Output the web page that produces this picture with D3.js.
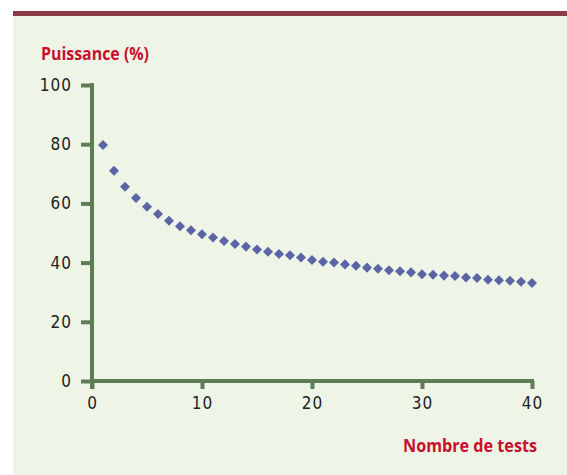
<!DOCTYPE html>
<html>
<head>
<meta charset="utf-8">
<script src="https://cdn.jsdelivr.net/npm/d3@7"></script>
<style>
  body { margin: 0; background: #fff; }
</style>
</head>
<body>
<div id="chart"></div>
<script>
// values
const tests = d3.range(1, 41);
const puissance = [79.7, 71.0, 65.6, 61.8, 58.9, 56.4, 54.1, 52.3, 50.9, 49.6,
                   48.5, 47.3, 46.3, 45.4, 44.4, 43.7, 42.9, 42.5, 41.7, 40.9,
                   40.3, 40.0, 39.4, 38.9, 38.3, 37.9, 37.4, 37.1, 36.7, 36.1,
                   35.9, 35.6, 35.5, 35.0, 34.8, 34.2, 34.0, 33.9, 33.5, 33.1];
const yTicks = [0, 20, 40, 60, 80, 100];
const xTicks = [0, 10, 20, 30, 40];

const W = 567, H = 475;
const axisColor = "#5e7d57";
const red = "#c8102e";

const svg = d3.select("#chart").append("svg")
    .attr("width", W)
    .attr("height", H);

// panel + top bar
svg.append("rect").attr("x", 13).attr("y", 16).attr("width", W - 13).attr("height", H - 16)
    .attr("fill", "#eef5e6");
svg.append("rect").attr("x", 13).attr("y", 11).attr("width", W - 13).attr("height", 5)
    .attr("fill", "#8e3b49");

const x = d3.scaleLinear().domain([0, 40]).range([92, 532]);
const y = d3.scaleLinear().domain([0, 100]).range([381, 85]);

// y axis
const yAxis = svg.append("g").attr("transform", "translate(92,0)")
    .call(d3.axisLeft(y).tickValues(yTicks).tickSize(11).tickPadding(9));
yAxis.select(".domain").remove();
yAxis.append("line").attr("x1", 0).attr("x2", 0).attr("y1", y(100) - 2).attr("y2", 389)
    .attr("stroke", axisColor).attr("stroke-width", 4);

// x axis
const xAxis = svg.append("g").attr("transform", "translate(0,381)")
    .call(d3.axisBottom(x).tickValues(xTicks).tickSize(8).tickPadding(8));
xAxis.select(".domain").remove();
xAxis.append("line").attr("x1", x(0)).attr("x2", x(40) + 2).attr("y1", 0).attr("y2", 0)
    .attr("stroke", axisColor).attr("stroke-width", 4);

svg.selectAll(".tick line").attr("stroke", axisColor).attr("stroke-width", 4);
svg.selectAll(".tick text")
    .attr("fill", "#222")
    .style("font-family", "'DejaVu Sans Condensed', sans-serif")
    .style("font-stretch", "condensed")
    .style("font-size", "17px")
    .style("letter-spacing", "1px");

// points as diamonds
svg.append("g").selectAll("path")
    .data(tests)
    .enter()
    .append("path")
    .attr("d", d3.symbol(d3.symbolDiamond2, 64))
    .attr("transform", (d, i) => `translate(${x(d)},${y(puissance[i])})`)
    .attr("fill", "#5b65a5");

// titles
svg.append("text").attr("x", 41).attr("y", 60)
    .attr("fill", red)
    .attr("textLength", 108)
    .attr("lengthAdjust", "spacingAndGlyphs")
    .style("font-family", "'Open Sans', sans-serif")
    .style("font-weight", "bold")
    .style("font-size", "18px")
    .text("Puissance (%)");

svg.append("text").attr("x", 403).attr("y", 452)
    .attr("fill", red)
    .attr("textLength", 134)
    .attr("lengthAdjust", "spacingAndGlyphs")
    .style("font-family", "'Open Sans', sans-serif")
    .style("font-weight", "bold")
    .style("font-size", "18px")
    .text("Nombre de tests");
</script>
</body>
</html>
